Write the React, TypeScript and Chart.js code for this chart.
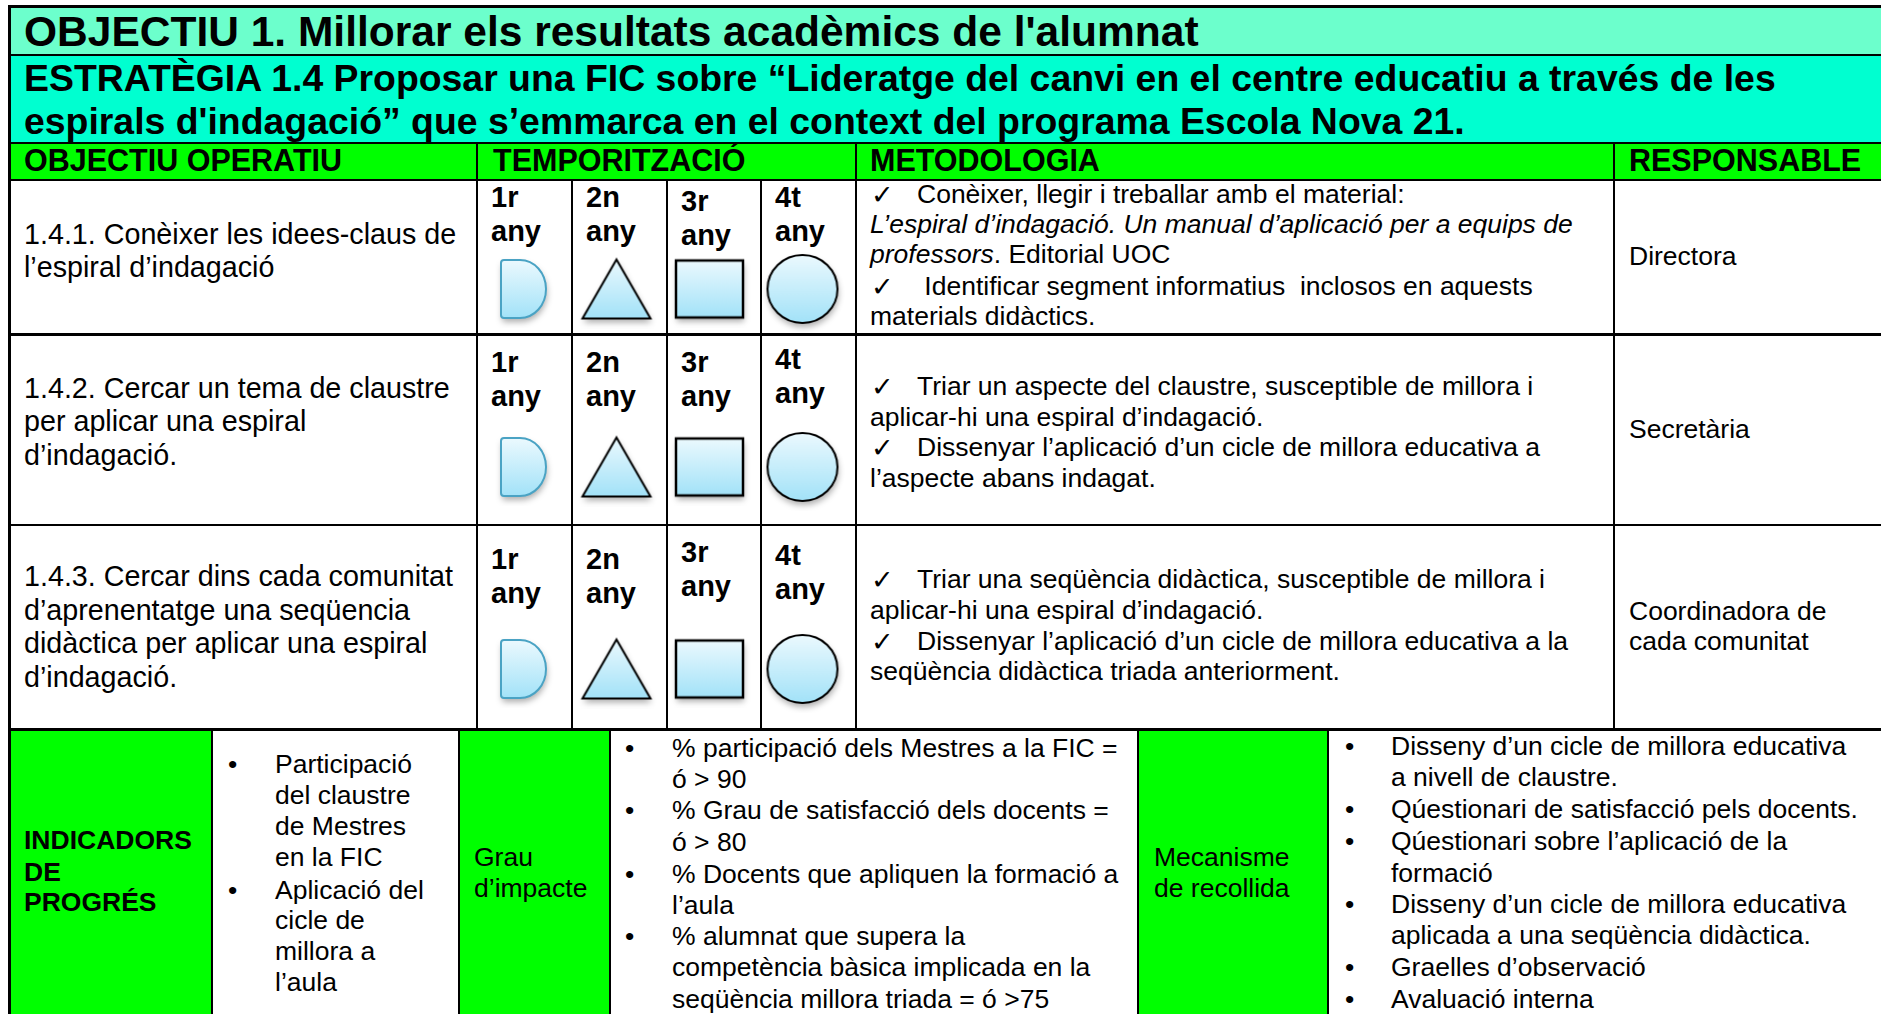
import React, { useEffect, useRef } from "react";
import { Chart, registerables } from "chart.js";

Chart.register(...registerables);

// ---------- DATA ----------
const titleText = "OBJECTIU 1. Millorar els resultats acadèmics de l'alumnat";
const strategyLines = [
  "ESTRATÈGIA 1.4 Proposar una FIC sobre “Lideratge del canvi en el centre educatiu a través de les",
  "espirals d'indagació” que s’emmarca en el context del programa Escola Nova 21.",
];
const headers = ["OBJECTIU OPERATIU", "TEMPORITZACIÓ", "METODOLOGIA", "RESPONSABLE"];
const years = ["1r any", "2n any", "3r any", "4t any"];
const shapeKinds = ["D", "triangle", "square", "circle"];
const objectiveLines = [
  ["1.4.1. Conèixer les idees-claus de", "l’espiral d’indagació"],
  ["1.4.2. Cercar un tema de claustre", "per aplicar una espiral", "d’indagació."],
  ["1.4.3. Cercar dins cada comunitat", "d’aprenentatge una seqüencia", "didàctica per aplicar una espiral", "d’indagació."],
];
// planned activity per year (1 = planned)
const planned141 = [1, 1, 1, 1];
const planned142 = [1, 1, 1, 1];
const planned143 = [1, 1, 1, 1];
const plannedRows = [planned141, planned142, planned143];

// methodology lines: [check?, segments of [text, italic]]
const methodology1: [boolean, [string, boolean][]][] = [
  [true, [["Conèixer, llegir i treballar amb el material:", false]]],
  [false, [["L’espiral d’indagació. Un manual d’aplicació per a equips de", true]]],
  [false, [["professors", true], [". Editorial UOC", false]]],
  [true, [[" Identificar segment informatius  inclosos en aquests", false]]],
  [false, [["materials didàctics.", false]]],
];
const methodology2: [boolean, [string, boolean][]][] = [
  [true, [["Triar un aspecte del claustre, susceptible de millora i", false]]],
  [false, [["aplicar-hi una espiral d’indagació.", false]]],
  [true, [["Dissenyar l’aplicació d’un cicle de millora educativa a", false]]],
  [false, [["l’aspecte abans indagat.", false]]],
];
const methodology3: [boolean, [string, boolean][]][] = [
  [true, [["Triar una seqüència didàctica, susceptible de millora i", false]]],
  [false, [["aplicar-hi una espiral d’indagació.", false]]],
  [true, [["Dissenyar l’aplicació d’un cicle de millora educativa a la", false]]],
  [false, [["seqüència didàctica triada anteriorment.", false]]],
];
const methodologies = [methodology1, methodology2, methodology3];
const responsables = [["Directora"], ["Secretària"], ["Coordinadora de", "cada comunitat"]];

const indicatorsTitle = ["INDICADORS", "DE", "PROGRÉS"];
const indicatorLines: [boolean, string][] = [
  [true, "Participació"], [false, "del claustre"], [false, "de Mestres"], [false, "en la FIC"],
  [true, "Aplicació del"], [false, "cicle de"], [false, "millora a"], [false, "l’aula"],
];
const impactTitle = ["Grau", "d’impacte"];
const impactLines: [boolean, string][] = [
  [true, "% participació dels Mestres a la FIC ="], [false, "ó > 90"],
  [true, "% Grau de satisfacció dels docents ="], [false, "ó > 80"],
  [true, "% Docents que apliquen la formació a"], [false, "l’aula"],
  [true, "% alumnat que supera la"], [false, "competència bàsica implicada en la"],
  [false, "seqüència millora triada = ó >75"],
];
const mechanismTitle = ["Mecanisme", "de recollida"];
const mechanismLines: [boolean, string][] = [
  [true, "Disseny d’un cicle de millora educativa"], [false, "a nivell de claustre."],
  [true, "Qúestionari de satisfacció pels docents."],
  [true, "Qúestionari sobre l’aplicació de la"], [false, "formació"],
  [true, "Disseny d’un cicle de millora educativa"], [false, "aplicada a una seqüència didàctica."],
  [true, "Graelles d’observació"], [true, "Avaluació interna"],
];

// ---------- LAYOUT ----------
const FONT = "'Liberation Sans', Arial, sans-serif";
const L = 9;
const R = 1881;
const H = { top: 6, title: 55, strat: 143, head: 180, r1: 334, r2: 525, r3: 729, bottom: 1014 };
const COL = { obj: 477, y2: 572, y3: 667, y4: 761, met: 856, resp: 1614 };
const BCOL = [212, 459, 610, 1138, 1328];
const yearLefts = [COL.obj, COL.y2, COL.y3, COL.y4];
const yearLabelCy = [
  [199, 199, 203, 199],
  [364, 364, 364, 361],
  [561, 561, 554, 557],
];
const shapeCy = [289, 467, 669];
const objCy = [[235, 268], [389, 422, 456], [577, 611, 644, 678]];
const metCy = [[196, 226, 256, 288, 318], [388, 419, 449, 480], [581, 612, 643, 673]];
const respCy = [[258], [431], [613, 643]];
const indCy = [766, 797, 828, 859, 892, 922, 953, 984];
const impCy = [750, 781, 812, 844, 876, 907, 938, 969, 1001];
const mecCy = [748, 779, 811, 843, 875, 906, 937, 969, 1001];

function Txt(props: { x: number; cy: number; size: number; bold?: boolean; italic?: boolean; children: any }) {
  const { x, cy, size, bold, italic, children } = props;
  return (
    <div
      style={{
        position: "absolute",
        left: x,
        top: cy - size * 0.64,
        fontSize: size,
        lineHeight: `${size * 1.2}px`,
        fontWeight: bold ? 700 : 400,
        fontStyle: italic ? "italic" : "normal",
        whiteSpace: "pre",
        fontFamily: FONT,
        color: "#000",
      }}
    >
      {children}
    </div>
  );
}

function Box(props: { x: number; y: number; w: number; h: number; bg: string }) {
  return <div style={{ position: "absolute", left: props.x, top: props.y, width: props.w, height: props.h, background: props.bg }} />;
}

function HLine(props: { y: number; x1: number; x2: number; t?: number }) {
  const t = props.t ?? 2;
  return <div style={{ position: "absolute", left: props.x1 - 1, top: props.y - t / 2, width: props.x2 - props.x1 + 2, height: t, background: "#000" }} />;
}
function VLine(props: { x: number; y1: number; y2: number; t?: number }) {
  const t = props.t ?? 2;
  return <div style={{ position: "absolute", left: props.x - t / 2, top: props.y1 - 1, width: t, height: props.y2 - props.y1 + 2, background: "#000" }} />;
}

// ---------- SHAPES (point styles) ----------
function makeShape(kind: string): HTMLCanvasElement {
  const dims: Record<string, [number, number]> = { D: [45, 58], triangle: [68, 59], square: [67, 57], circle: [70, 68] };
  const [w, h] = dims[kind];
  const pad = 10;
  const c = document.createElement("canvas");
  c.width = w + pad * 2;
  c.height = h + pad * 2;
  const ctx = c.getContext("2d")!;
  const x0 = pad, y0 = pad;
  const path = () => {
    ctx.beginPath();
    if (kind === "D") {
      const rx = 26;
      ctx.moveTo(x0 + 3, y0);
      ctx.lineTo(x0 + w - rx, y0);
      ctx.ellipse(x0 + w - rx, y0 + h / 2, rx, h / 2, 0, -Math.PI / 2, Math.PI / 2);
      ctx.lineTo(x0 + 3, y0 + h);
      ctx.quadraticCurveTo(x0, y0 + h, x0, y0 + h - 3);
      ctx.lineTo(x0, y0 + 3);
      ctx.quadraticCurveTo(x0, y0, x0 + 3, y0);
    } else if (kind === "triangle") {
      ctx.moveTo(x0 + w / 2, y0);
      ctx.lineTo(x0 + w, y0 + h);
      ctx.lineTo(x0, y0 + h);
    } else if (kind === "square") {
      ctx.rect(x0, y0, w, h);
    } else {
      ctx.ellipse(x0 + w / 2, y0 + h / 2, w / 2, h / 2, 0, 0, Math.PI * 2);
    }
    ctx.closePath();
  };
  const g = ctx.createLinearGradient(0, y0, 0, y0 + h);
  g.addColorStop(0, "#ebf9fe");
  g.addColorStop(1, "#a2e2f8");
  ctx.save();
  ctx.shadowColor = "rgba(0,0,0,0.32)";
  ctx.shadowBlur = 6;
  ctx.shadowOffsetX = 1;
  ctx.shadowOffsetY = 4;
  path();
  ctx.fillStyle = g;
  ctx.fill();
  ctx.restore();
  path();
  ctx.lineWidth = kind === "square" ? 2.5 : 2;
  ctx.strokeStyle = kind === "D" ? "#4aa3c4" : "#000";
  ctx.stroke();
  return c;
}

function ShapeRow(props: { values: number[]; left: number; top: number; width: number; height: number }) {
  const ref = useRef<HTMLCanvasElement | null>(null);
  useEffect(() => {
    if (!ref.current) return;
    const styles = shapeKinds.map(makeShape);
    const chart = new Chart(ref.current, {
      type: "line",
      data: {
        labels: years,
        datasets: [
          {
            data: props.values,
            pointStyle: styles as any,
            pointRadius: 20,
            showLine: false,
            clip: false as any,
          },
        ],
      },
      options: {
        animation: false,
        responsive: false,
        events: [],
        layout: { padding: 0, autoPadding: false },
        plugins: { legend: { display: false }, tooltip: { enabled: false } },
        scales: {
          x: { type: "category", offset: true, display: false },
          y: { min: 0, max: 2, display: false },
        },
      },
    });
    return () => chart.destroy();
  }, []);
  return (
    <canvas
      ref={ref}
      width={props.width}
      height={props.height}
      style={{ position: "absolute", left: props.left, top: props.top, width: props.width, height: props.height }}
    />
  );
}

export default function App() {
  useEffect(() => {
    document.body.style.margin = "0";
  }, []);
  const bodySize = 26.5;
  const objSize = 28.7;
  return (
    <div style={{ position: "relative", width: 1881, height: 1014, overflow: "hidden", background: "#fff", fontFamily: FONT }}>
      {/* backgrounds */}
      <Box x={L} y={H.top} w={R - L} h={H.title - H.top} bg="#6CFFCC" />
      <Box x={L} y={H.title} w={R - L} h={H.strat - H.title} bg="#00FFD0" />
      <Box x={L} y={H.strat} w={R - L} h={H.head - H.strat} bg="#00FF00" />
      <Box x={L} y={H.r3} w={BCOL[0] - L} h={H.bottom - H.r3} bg="#00FF00" />
      <Box x={BCOL[1]} y={H.r3} w={BCOL[2] - BCOL[1]} h={H.bottom - H.r3} bg="#00FF00" />
      <Box x={BCOL[3]} y={H.r3} w={BCOL[4] - BCOL[3]} h={H.bottom - H.r3} bg="#00FF00" />

      {/* title + strategy */}
      <Txt x={24} cy={33} size={42.5} bold>{titleText}</Txt>
      <Txt x={24} cy={80} size={37.4} bold>{strategyLines[0]}</Txt>
      <Txt x={24} cy={123} size={37.4} bold>{strategyLines[1]}</Txt>

      {/* headers */}
      <Txt x={24} cy={162} size={30.5} bold>{headers[0]}</Txt>
      <Txt x={493} cy={162} size={30.5} bold>{headers[1]}</Txt>
      <Txt x={870} cy={162} size={30.5} bold>{headers[2]}</Txt>
      <Txt x={1629} cy={162} size={30.5} bold>{headers[3]}</Txt>

      {/* body rows */}
      {objectiveLines.map((lines, r) => (
        <React.Fragment key={"row" + r}>
          {lines.map((t, i) => (
            <Txt key={"o" + i} x={24} cy={objCy[r][i]} size={objSize}>{t}</Txt>
          ))}
          {years.map((y, k) => {
            const [a, b] = y.split(" ");
            return (
              <React.Fragment key={"y" + k}>
                <Txt x={yearLefts[k] + 14} cy={yearLabelCy[r][k]} size={29} bold>{a}</Txt>
                <Txt x={yearLefts[k] + 14} cy={yearLabelCy[r][k] + 34} size={29} bold>{b}</Txt>
              </React.Fragment>
            );
          })}
          <ShapeRow values={plannedRows[r]} left={COL.obj} top={shapeCy[r] - 50} width={372} height={100} />
          {methodologies[r].map(([check, segs], i) => (
            <React.Fragment key={"m" + i}>
              {check && <Txt x={871} cy={metCy[r][i]} size={27}>✓</Txt>}
              <Txt x={check ? 917 : 870} cy={metCy[r][i]} size={bodySize}>
                {segs.map(([s, it], j) => (
                  <span key={j} style={{ fontStyle: it ? "italic" : "normal" }}>{s}</span>
                ))}
              </Txt>
            </React.Fragment>
          ))}
          {responsables[r].map((t, i) => (
            <Txt key={"r" + i} x={1629} cy={respCy[r][i]} size={bodySize}>{t}</Txt>
          ))}
        </React.Fragment>
      ))}

      {/* bottom section */}
      {indicatorsTitle.map((t, i) => (
        <Txt key={"it" + i} x={24} cy={[842, 874, 904][i]} size={26.5} bold>{t}</Txt>
      ))}
      {indicatorLines.map(([b, t], i) => (
        <React.Fragment key={"il" + i}>
          {b && <Txt x={228} cy={indCy[i]} size={bodySize}>•</Txt>}
          <Txt x={275} cy={indCy[i]} size={bodySize}>{t}</Txt>
        </React.Fragment>
      ))}
      {impactTitle.map((t, i) => (
        <Txt key={"gt" + i} x={474} cy={[859, 890][i]} size={bodySize}>{t}</Txt>
      ))}
      {impactLines.map(([b, t], i) => (
        <React.Fragment key={"gl" + i}>
          {b && <Txt x={625} cy={impCy[i]} size={bodySize}>•</Txt>}
          <Txt x={672} cy={impCy[i]} size={bodySize}>{t}</Txt>
        </React.Fragment>
      ))}
      {mechanismTitle.map((t, i) => (
        <Txt key={"mt" + i} x={1154} cy={[859, 890][i]} size={bodySize}>{t}</Txt>
      ))}
      {mechanismLines.map(([b, t], i) => (
        <React.Fragment key={"ml" + i}>
          {b && <Txt x={1345} cy={mecCy[i]} size={bodySize}>•</Txt>}
          <Txt x={1391} cy={mecCy[i]} size={bodySize}>{t}</Txt>
        </React.Fragment>
      ))}

      {/* grid lines */}
      <HLine y={H.top} x1={L} x2={R} t={3} />
      <HLine y={H.title} x1={L} x2={R} t={2} />
      <HLine y={H.strat} x1={L} x2={R} t={2} />
      <HLine y={H.head} x1={L} x2={R} t={2} />
      <HLine y={H.r1} x1={L} x2={R} t={3} />
      <HLine y={H.r2} x1={L} x2={R} t={2} />
      <HLine y={H.r3} x1={L} x2={R} t={3} />
      <VLine x={L} y1={H.top} y2={H.bottom} t={3} />
      <VLine x={COL.obj} y1={H.strat} y2={H.r3} />
      <VLine x={COL.met} y1={H.strat} y2={H.r3} />
      <VLine x={COL.resp} y1={H.strat} y2={H.r3} />
      <VLine x={COL.y2} y1={H.head} y2={H.r3} />
      <VLine x={COL.y3} y1={H.head} y2={H.r3} />
      <VLine x={COL.y4} y1={H.head} y2={H.r3} />
      {BCOL.map((x, i) => (
        <VLine key={"bc" + i} x={x} y1={H.r3} y2={H.bottom} />
      ))}
    </div>
  );
}
